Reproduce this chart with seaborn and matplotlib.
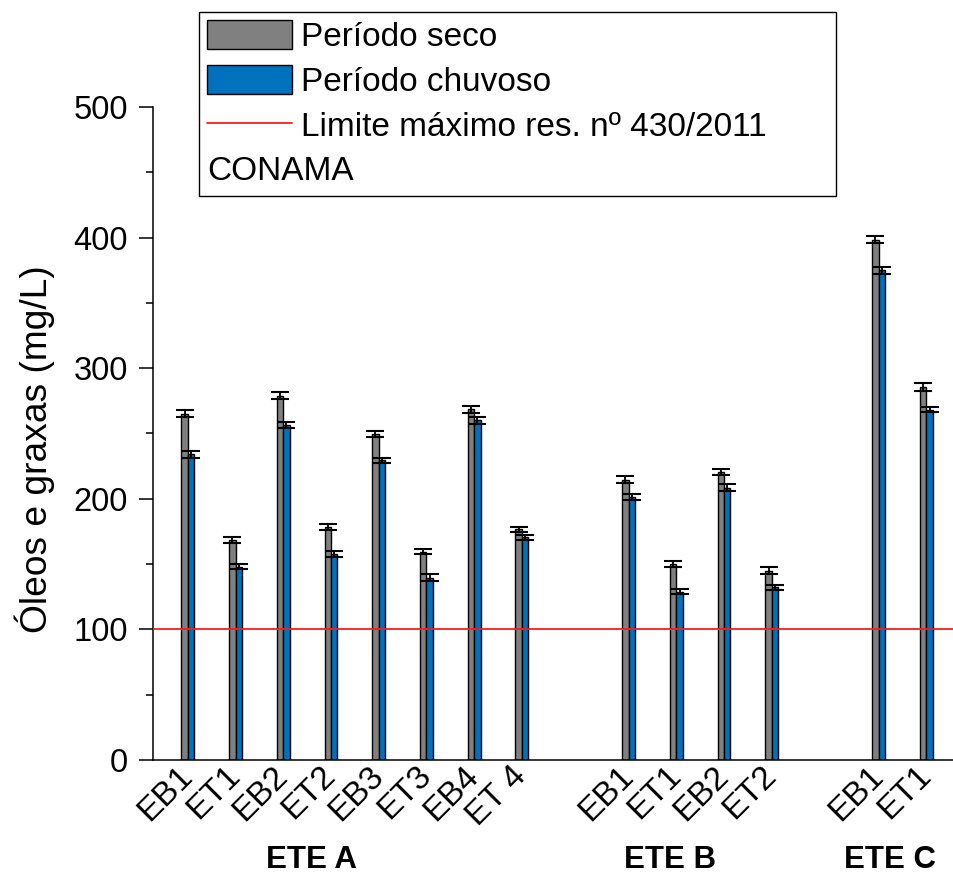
import matplotlib
matplotlib.use("Agg")
import matplotlib.pyplot as plt
from matplotlib.patches import Patch
from matplotlib.lines import Line2D
from matplotlib.ticker import MultipleLocator
import seaborn as sns
import pandas as pd

# --- data -------------------------------------------------------------
stations = ["ETE A"] * 8 + ["ETE B"] * 4 + ["ETE C"] * 2
points = ["EB1", "ET1", "EB2", "ET2", "EB3", "ET3", "EB4", "ET 4",
          "EB1", "ET1", "EB2", "ET2",
          "EB1", "ET1"]
seco = [265.0, 168.5, 279.0, 178.5, 249.5, 159.5, 268.5, 176.5,
        214.5, 150.0, 220.5, 145.0,
        398.5, 285.5]
seco_err = [2.7, 2.3, 2.5, 2.5, 2.5, 2.0, 2.6, 2.0,
            2.7, 2.5, 2.0, 2.5,
            2.7, 2.8]
chuvoso = [234.0, 148.0, 256.5, 157.7, 229.5, 139.7, 260.0, 170.5,
           201.5, 128.8, 208.3, 132.4,
           375.0, 268.2]
chuvoso_err = [2.7, 2.0, 2.0, 2.5, 2.0, 2.7, 2.6, 1.8,
               2.5, 1.9, 2.7, 1.9,
               2.5, 2.1]
limite = 100
periods = ["Período seco", "Período chuvoso"]
limit_label = "Limite máximo res. nº 430/2011"
limit_note = "CONAMA"
ylabel = "Óleos e graxas (mg/L)"

# --- layout -----------------------------------------------------------
station_names = list(dict.fromkeys(stations))
group_gap = 1.24
xpos = [i + group_gap * station_names.index(s) for i, s in enumerate(stations)]

df = pd.DataFrame({
    "x": xpos * 2,
    "valor": seco + chuvoso,
    "periodo": [periods[0]] * len(seco) + [periods[1]] * len(chuvoso),
})

sns.set_style("ticks")
plt.rcParams["font.family"] = ["Liberation Sans", "DejaVu Sans"]
for key in ["text.color", "axes.labelcolor", "xtick.color", "ytick.color",
            "axes.edgecolor"]:
    plt.rcParams[key] = "black"

colors = {periods[0]: "#808080", periods[1]: "#0072BD"}
red = "#ff1a1a"

fig = plt.figure(figsize=(9.54, 8.75), dpi=100)
W, H = 954, 875
ax = fig.add_axes([153 / W, 115 / H, 1 - 153 / W, (760 - 107) / H])

sns.barplot(data=df, x="x", y="valor", hue="periodo", hue_order=periods,
            palette=colors, native_scale=True, width=0.27, dodge=True,
            errorbar=None, saturation=1, edgecolor="black", linewidth=1.0,
            legend=False, ax=ax)

# error bars on top of each bar
for cont, errs in zip(ax.containers, [seco_err, chuvoso_err]):
    bars = sorted(cont.patches, key=lambda p: p.get_x())
    cx = [p.get_x() + p.get_width() / 2 for p in bars]
    hy = [p.get_height() for p in bars]
    ax.errorbar(cx, hy, yerr=errs, fmt="none", ecolor="black",
                elinewidth=1.3, capsize=6.5, capthick=1.5, zorder=5)

ax.axhline(limite, color=red, lw=1.3, zorder=4)

ax.set_xlim(-0.73, 16.06)
ax.set_ylim(0, 500)
ax.yaxis.set_major_locator(MultipleLocator(100))
ax.yaxis.set_minor_locator(MultipleLocator(50))
ax.tick_params(axis="y", which="major", length=10, width=1.1, pad=8,
               labelsize=23.5, direction="out")
ax.tick_params(axis="y", which="minor", length=5, width=1.1, direction="out")
ax.tick_params(axis="x", length=0, pad=8)

ax.set_xticks(xpos)
ax.set_xticklabels(points, rotation=45, ha="right", va="center",
                   rotation_mode="anchor", fontsize=24)

ax.set_xlabel("")
ax.set_ylabel(ylabel, fontsize=26.7)
ax.yaxis.set_label_coords(-0.122, 0.476)

sns.despine(ax=ax, top=True, right=True)
for side in ["left", "bottom"]:
    ax.spines[side].set_linewidth(1.1)

# station names under each group
trans = matplotlib.transforms.blended_transform_factory(ax.transData, ax.transAxes)
for name, cx in zip(station_names, [2.6, 10.1, 14.72]):
    ax.text(cx, -0.153, name, transform=trans, ha="center", va="center",
            fontsize=22.5, fontweight="bold")

# legend, stretched to a fixed frame width
handles = [Patch(facecolor=colors[periods[0]], edgecolor="black", lw=1.0),
           Patch(facecolor=colors[periods[1]], edgecolor="black", lw=1.0),
           Line2D([], [], color=red, lw=1.3),
           Patch(facecolor="none", edgecolor="none")]
leg = fig.legend(handles, [periods[0], periods[1], limit_label, " "],
                 loc="upper left", mode="expand",
                 bbox_to_anchor=(199 / W, 1 - 12 / H, (836 - 199) / W, 0.0),
                 bbox_transform=fig.transFigure, borderaxespad=0,
                 fontsize=24, handlelength=2.55, handleheight=0.96,
                 handletextpad=0.25, labelspacing=0.36, borderpad=0.25,
                 fancybox=False, framealpha=1, edgecolor="black")
leg.get_frame().set_linewidth(1.0)

# second line of the limit entry, starting under the handles
fig.text(207 / W, 1 - 172 / H, limit_note, ha="left", va="center",
         fontsize=24, zorder=10)

fig.savefig("out.png", dpi=100)
